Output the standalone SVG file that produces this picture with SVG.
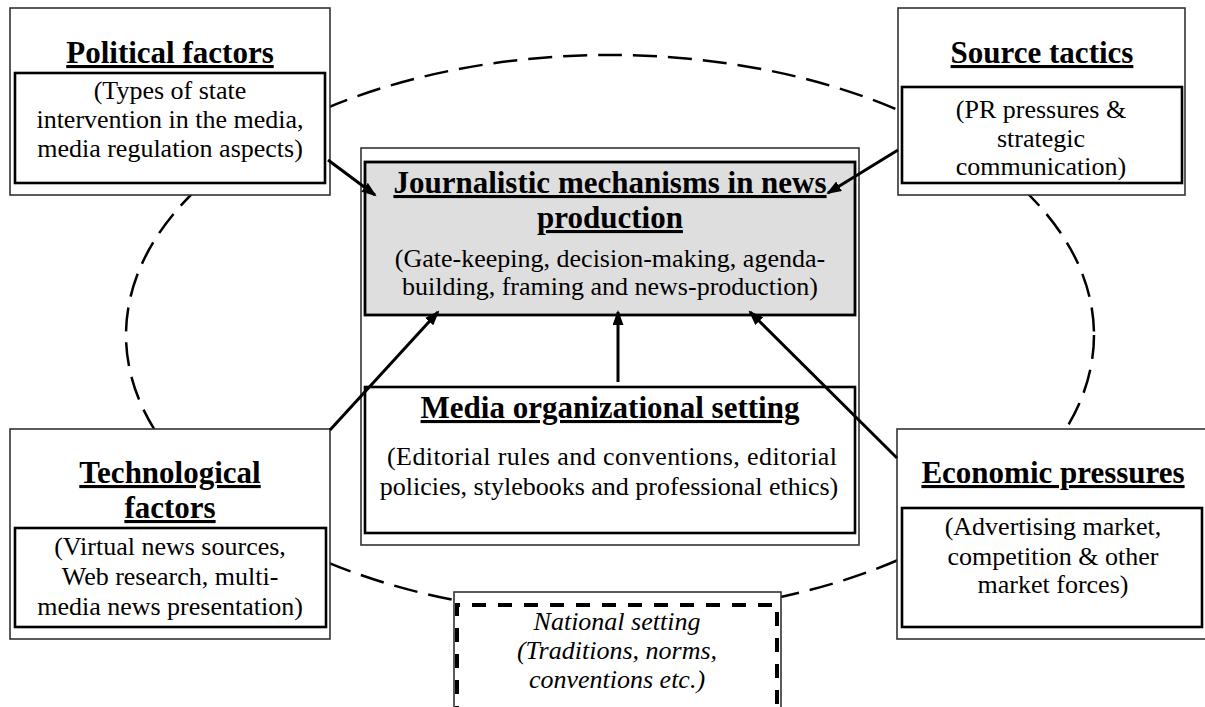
<svg xmlns="http://www.w3.org/2000/svg" width="1205" height="707" viewBox="0 0 1205 707">
<style>
text{font-family:"Liberation Serif","Times New Roman",serif;fill:#000;text-anchor:middle}
.t{font-size:31px;font-weight:bold;text-decoration:underline}
.b{font-size:26px}
.i{font-size:26px;font-style:italic}
.outer{fill:#fff;stroke:#333;stroke-width:1.6}
.inner{fill:#fff;stroke:#000;stroke-width:2.6}
.gray{fill:#dedede;stroke:#000;stroke-width:2.8}
.con{stroke:#000;stroke-width:3;fill:none;marker-end:url(#ah)}
</style>
<defs>
<marker id="ah" markerUnits="userSpaceOnUse" markerWidth="16" markerHeight="12" refX="13" refY="5.5" orient="auto">
<path d="M0,0 L15,5.5 L0,11 z" fill="#000"/>
</marker>
</defs>
<rect width="1205" height="707" fill="#fff"/>
<ellipse id="ellipse" cx="610" cy="335" rx="484" ry="280" fill="none" stroke="#000" stroke-width="2.5" stroke-dasharray="24 11"/>

<g id="central">
<rect class="outer" x="361" y="148" width="498" height="397"/>
</g>

<g id="journalistic">
<rect class="gray" x="365" y="162" width="490" height="153"/>
<text class="t" x="610" y="193">Journalistic mechanisms in news</text>
<text class="t" x="610" y="228">production</text>
<text class="b" x="610" y="267">(Gate-keeping, decision-making, agenda-</text>
<text class="b" x="610" y="295">building, framing and news-production)</text>
</g>

<g id="media">
<rect class="inner" x="365" y="387" width="490" height="146"/>
<text class="t" x="610" y="418">Media organizational setting</text>
<text class="b" x="387" y="465" style="text-anchor:start" textLength="450" lengthAdjust="spacing">(Editorial rules and conventions, editorial</text>
<text class="b" x="609" y="495">policies, stylebooks and professional ethics)</text>
</g>

<g id="political">
<rect class="outer" x="10" y="8" width="320" height="187"/>
<text class="t" x="170" y="63">Political factors</text>
<rect class="inner" x="15" y="73" width="310" height="110"/>
<text class="b" x="170" y="99">(Types of state</text>
<text class="b" x="170" y="128">intervention in the media,</text>
<text class="b" x="170" y="157">media regulation aspects)</text>
</g>

<g id="source">
<rect class="outer" x="898" y="8" width="287" height="187"/>
<text class="t" x="1042" y="63">Source tactics</text>
<rect class="inner" x="902" y="87" width="280" height="96"/>
<text class="b" x="1041" y="118">(PR pressures &amp;</text>
<text class="b" x="1041" y="147">strategic</text>
<text class="b" x="1041" y="175">communication)</text>
</g>

<g id="technological">
<rect class="outer" x="10" y="429" width="320" height="210"/>
<text class="t" x="170" y="483">Technological</text>
<text class="t" x="170" y="518">factors</text>
<rect class="inner" x="15" y="528" width="311" height="99"/>
<text class="b" x="170" y="555">(Virtual news sources,</text>
<text class="b" x="170" y="585">Web research, multi-</text>
<text class="b" x="170" y="615">media news presentation)</text>
</g>

<g id="economic">
<rect class="outer" x="897" y="429" width="310" height="210"/>
<text class="t" x="1053" y="483">Economic pressures</text>
<rect class="inner" x="902" y="508" width="300" height="119"/>
<text class="b" x="1053" y="535">(Advertising market,</text>
<text class="b" x="1053" y="565">competition &amp; other</text>
<text class="b" x="1053" y="593">market forces)</text>
</g>

<g id="national">
<rect class="outer" x="454" y="592" width="327" height="130"/>
<path d="M457,720 L457,605 L777,605 L777,720" fill="none" stroke="#000" stroke-width="4" stroke-dasharray="14 12"/>
<text class="i" x="617" y="630">National setting</text>
<text class="i" x="617" y="659">(Traditions, norms,</text>
<text class="i" x="617" y="688">conventions etc.)</text>
</g>

<g id="connectors">
<line class="con" x1="328" y1="160" x2="375" y2="195"/>
<line class="con" x1="898" y1="150" x2="828" y2="193"/>
<line class="con" x1="330" y1="430" x2="438" y2="312"/>
<line class="con" x1="618" y1="382" x2="618" y2="312"/>
<line class="con" x1="897" y1="458" x2="750" y2="312"/>
</g>
</svg>
